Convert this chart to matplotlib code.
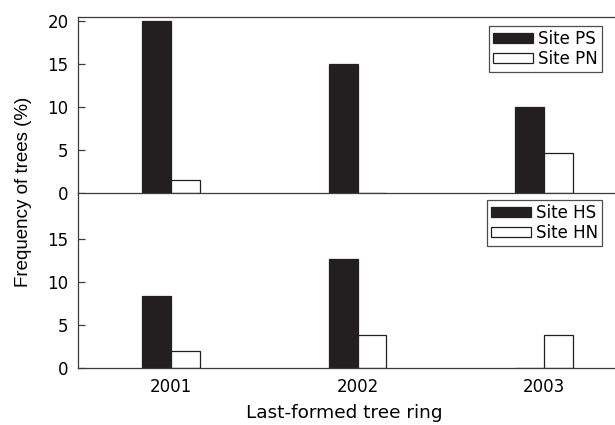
import numpy as np
import matplotlib.pyplot as plt

plt.rcParams['font.family'] = ['DejaVu Sans']

# Share of trees by last-formed ring, per site
years = ['2001', '2002', '2003']
site_ps = [20.0, 15.0, 10.0]
site_pn = [1.5, 0.0, 4.6]
site_hs = [8.4, 12.7, 0.0]
site_hn = [1.9, 3.8, 3.8]

ink = '#231f20'
axcol = '#3a3a3a'
x = np.arange(1, len(years) + 1)
w = 0.155

fig = plt.figure(figsize=(6.15, 4.25), dpi=100)
ax1 = fig.add_axes([0.1263, 0.547, 0.9102, 0.4136])
ax2 = fig.add_axes([0.1263, 0.1348, 0.9102, 0.4122])

panels = [
    (ax1, site_ps, site_pn, 'Site PS', 'Site PN', [0, 5, 10, 15, 20], 0.947),
    (ax2, site_hs, site_hn, 'Site HS', 'Site HN', [0, 5, 10, 15], 0.957),
]

for ax, dark, light, ldark, llight, yt, ly in panels:
    ax.bar(x - w / 2, dark, w, color=ink, edgecolor=ink, linewidth=0.9, label=ldark)
    ax.bar(x + w / 2, light, w, color='white', edgecolor=ink, linewidth=0.9, label=llight)
    ax.set_xlim(0.5, 3.5)
    ax.set_ylim(0, 20.45)
    ax.set_yticks(yt)
    ax.tick_params(axis='y', direction='in', length=5, width=0.9, color=axcol,
                   labelsize=12, pad=6.5)
    ax.tick_params(axis='x', length=0, labelsize=12, pad=7.5)
    for s in ax.spines.values():
        s.set_color(axcol)
        s.set_linewidth(0.9)
    ax.spines['right'].set_visible(False)
    leg = ax.legend(loc='upper right', bbox_to_anchor=(0.937, ly), borderaxespad=0,
                    fancybox=False, edgecolor=ink, fontsize=12, handlelength=2.4,
                    handleheight=0.54, handletextpad=0.3, borderpad=0.25,
                    labelspacing=0.12)
    leg.get_frame().set_linewidth(0.9)

ax1.spines['bottom'].set_visible(False)
ax1.set_xticks([])
ax2.set_xticks(x)
ax2.set_xticklabels(years)

ax2.set_xlabel('Last-formed tree ring', fontsize=13.3)
ax2.xaxis.set_label_coords(0.476, -0.205)
fig.text(0.039, 0.548, 'Frequency of trees (%)', rotation=90, fontsize=13.5,
         family='Liberation Sans', ha='center', va='center')

fig.savefig('out.png', dpi=100)
